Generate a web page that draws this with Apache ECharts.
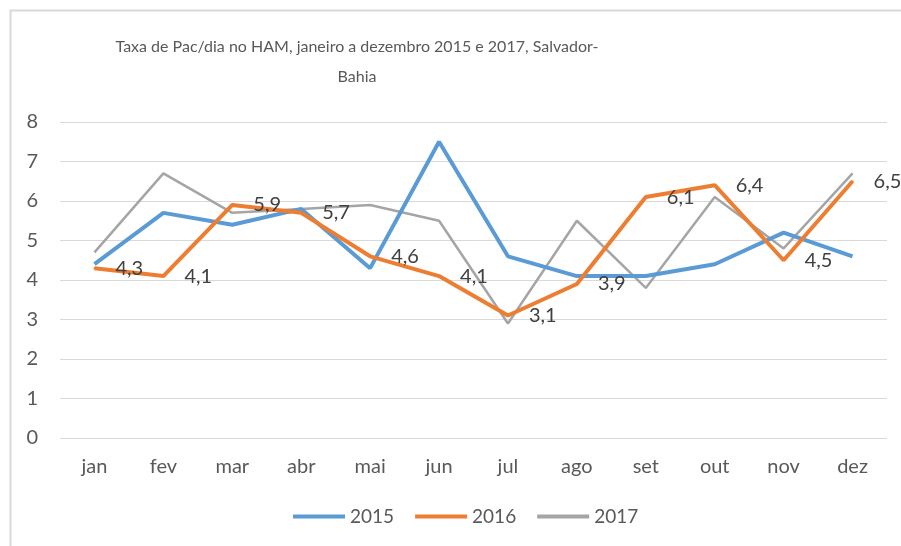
<!DOCTYPE html>
<html>
<head>
<meta charset="utf-8">
<script src="https://cdn.jsdelivr.net/npm/echarts@6/dist/echarts.min.js"></script>
<style>
  html, body { margin: 0; padding: 0; background: #fff; }
  #main { width: 901px; height: 546px; }
</style>
</head>
<body>
<div id="main"></div>
<script>
    var myChart = echarts.init(document.getElementById('main'));

    var meses = ['jan', 'fev', 'mar', 'abr', 'mai', 'jun', 'jul', 'ago', 'set', 'out', 'nov', 'dez'];
    var taxa2015 = [4.4, 5.7, 5.4, 5.8, 4.3, 7.5, 4.6, 4.1, 4.1, 4.4, 5.2, 4.6];
    var taxa2016 = [4.3, 4.1, 5.9, 5.7, 4.6, 4.1, 3.1, 3.9, 6.1, 6.4, 4.5, 6.5];
    var taxa2017 = [4.7, 6.7, 5.7, 5.8, 5.9, 5.5, 2.9, 5.5, 3.8, 6.1, 4.8, 6.7];

    var fonte = 'Lato, "Open Sans", sans-serif';

    option = {
    animation: false,
    title: {
        text: 'Taxa de Pac/dia no HAM, janeiro a dezembro 2015 e 2017, Salvador-\nBahia',
        left: 352,
        top: 27,
        textAlign: 'center',
        textStyle: {
            fontFamily: fonte,
            fontSize: 16,
            fontWeight: 'normal',
            color: '#595959',
            lineHeight: 30
        }
    },
    legend: {
        data: [
            { name: '2015', icon: 'rect' },
            { name: '2016', icon: 'rect' },
            { name: '2017', icon: 'rect' }
        ],
        left: 288,
        top: 502,
        itemWidth: 52,
        itemHeight: 4,
        itemGap: 21,
        textStyle: { fontFamily: fonte, fontSize: 19, color: '#595959' }
    },
    grid: {
        left: 60,
        right: 14,
        top: 122,
        bottom: 108
    },
    xAxis: {
        type: 'category',
        data: meses,
        boundaryGap: true,
        axisLine: { show: false },
        axisTick: { show: false },
        axisLabel: { fontFamily: fonte, fontSize: 20, color: '#595959', margin: 19 }
    },
    yAxis: {
        type: 'value',
        min: 0,
        max: 8,
        interval: 1,
        axisLine: { show: false },
        axisTick: { show: false },
        axisLabel: { fontFamily: fonte, fontSize: 20, color: '#595959', margin: 22 },
        splitLine: { lineStyle: { color: '#d9d9d9', width: 1 } }
    },
    graphic: [{
        type: 'rect',
        shape: { x: 10.5, y: 10.5, width: 1200, height: 1200 },
        style: { fill: 'none', stroke: '#d9d9d9', lineWidth: 2 },
        silent: true
    }],
    series: [
        {
            name: '2015',
            type: 'line',
            data: taxa2015,
            symbol: 'none',
            color: '#5b9bd5',
            lineStyle: { width: 4, color: '#5b9bd5' }
        },
        {
            name: '2016',
            type: 'line',
            data: taxa2016,
            symbol: 'circle',
            symbolSize: 2,
            showSymbol: true,
            color: '#ed7d31',
            lineStyle: { width: 4, color: '#ed7d31' },
            z: 3,
            label: {
                show: true,
                position: 'right',
                distance: 20,
                fontFamily: fonte,
                fontSize: 20,
                color: '#404040',
                formatter: function (p) { return String(p.value).replace('.', ','); }
            }
        },
        {
            name: '2017',
            type: 'line',
            data: taxa2017,
            symbol: 'none',
            color: '#a5a5a5',
            lineStyle: { width: 2.5, color: '#a5a5a5' },
            z: 2
        }
    ]
    };
    myChart.setOption(option);
</script>
</body>
</html>
